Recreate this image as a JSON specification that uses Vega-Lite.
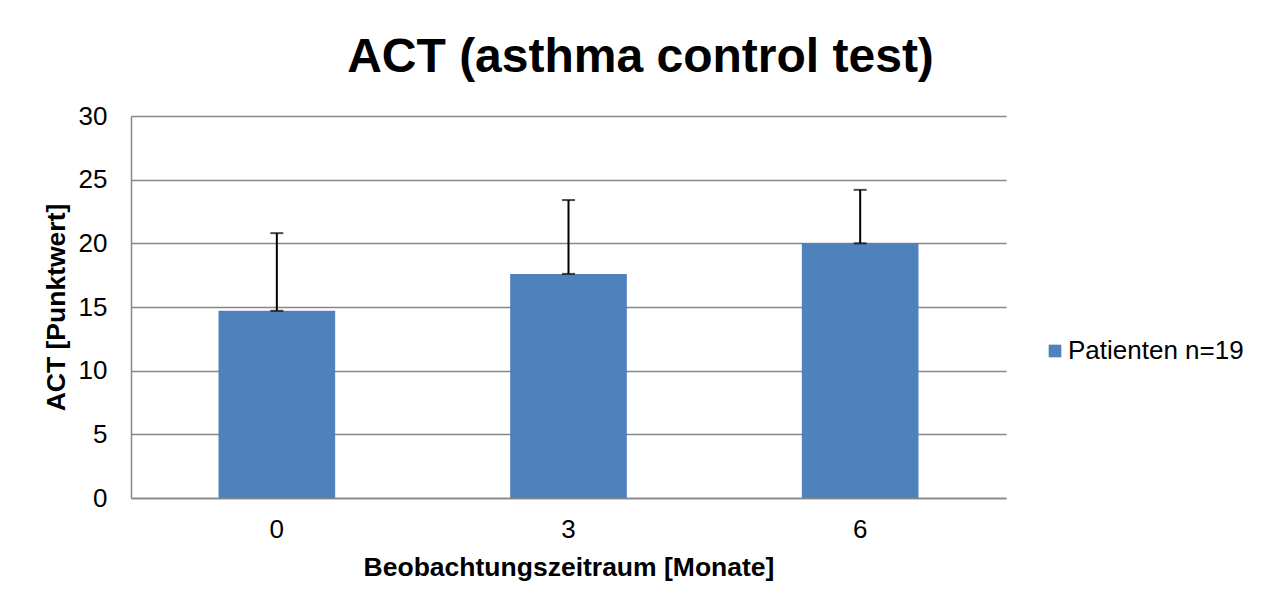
{
  "$schema": "https://vega.github.io/schema/vega-lite/v6.json",
  "autosize": {"type": "none"},
  "width": 875,
  "height": 382,
  "padding": {"left": 131, "top": 116, "right": 266, "bottom": 114},
  "background": "white",
  "title": {
    "text": "ACT (asthma control test)",
    "font": "Liberation Sans",
    "fontSize": 48,
    "fontWeight": "bold",
    "color": "#000000",
    "anchor": "middle",
    "dx": 72,
    "offset": 21
  },
  "data": {
    "values": [
      {"monat": "0", "act": 14.7, "oben": 20.8, "serie": "Patienten n=19"},
      {"monat": "3", "act": 17.6, "oben": 23.4, "serie": "Patienten n=19"},
      {"monat": "6", "act": 20.0, "oben": 24.2, "serie": "Patienten n=19"}
    ]
  },
  "config": {
    "view": {"stroke": null},
    "font": "Liberation Sans",
    "axisY": {
      "titleFont": "Liberation Sans",
      "titleFontSize": 26.5,
      "titleFontWeight": "bold",
      "titleColor": "#000000",
      "titlePadding": 8,
      "labelFont": "Liberation Sans",
      "labelFontSize": 26,
      "labelColor": "#000000",
      "labelPadding": 24,
      "labelOverlap": false,
      "ticks": false,
      "domainColor": "#868686",
      "domainWidth": 1.5,
      "grid": true,
      "gridColor": "#868686",
      "gridWidth": 1.5
    }
  },
  "encoding": {
    "x": {
      "field": "monat",
      "type": "ordinal",
      "sort": ["0", "3", "6"],
      "scale": {"paddingInner": 0.6, "paddingOuter": 0.3},
      "axis": {
        "title": "Beobachtungszeitraum [Monate]",
        "titleFont": "Liberation Sans",
        "titleFontSize": 26.5,
        "titleFontWeight": "bold",
        "titleColor": "#000000",
        "titlePadding": 12,
        "labelFont": "Liberation Sans",
        "labelFontSize": 26,
        "labelColor": "#000000",
        "labelAngle": 0,
        "labelPadding": 18,
        "ticks": false,
        "domainColor": "#868686",
        "domainWidth": 1.5,
        "grid": false
      }
    }
  },
  "layer": [
    {
      "mark": {"type": "bar", "color": "#4F81BD"},
      "encoding": {
        "y": {
          "field": "act",
          "type": "quantitative",
          "scale": {"domain": [0, 30]},
          "axis": {"title": "ACT [Punktwert]", "values": [0, 5, 10, 15, 20, 25, 30]}
        },
        "color": {
          "field": "serie",
          "type": "nominal",
          "scale": {"range": ["#4F81BD"]},
          "legend": {
            "title": null,
            "orient": "none",
            "legendX": 911,
            "legendY": 222,
            "symbolType": "square",
            "symbolSize": 160,
            "symbolStrokeWidth": 0,
            "labelFont": "Liberation Sans",
            "labelFontSize": 26,
            "labelColor": "#000000",
            "labelOffset": 0,
            "labelLimit": 400
          }
        }
      }
    },
    {
      "mark": {"type": "rule", "color": "#000000", "strokeWidth": 2},
      "encoding": {
        "y": {"field": "act", "type": "quantitative", "axis": {"title": "ACT [Punktwert]", "values": [0, 5, 10, 15, 20, 25, 30]}},
        "y2": {"field": "oben"}
      }
    },
    {
      "mark": {"type": "tick", "color": "#000000", "thickness": 2, "size": 13},
      "encoding": {
        "y": {"field": "oben", "type": "quantitative", "axis": {"title": "ACT [Punktwert]", "values": [0, 5, 10, 15, 20, 25, 30]}}
      }
    },
    {
      "mark": {"type": "tick", "color": "#000000", "thickness": 2, "size": 13},
      "encoding": {
        "y": {"field": "act", "type": "quantitative", "axis": {"title": "ACT [Punktwert]", "values": [0, 5, 10, 15, 20, 25, 30]}}
      }
    }
  ]
}
